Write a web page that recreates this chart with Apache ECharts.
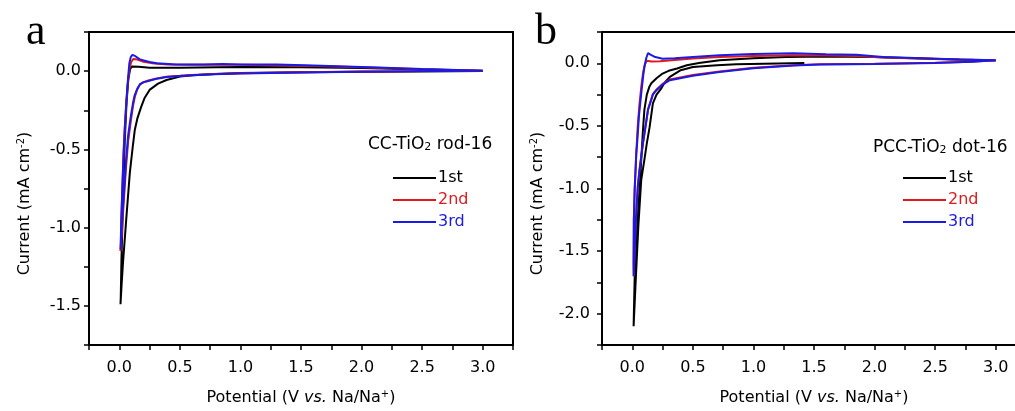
<!DOCTYPE html>
<html>
<head>
<meta charset="utf-8">
<script src="https://cdn.jsdelivr.net/npm/echarts@6/dist/echarts.min.js"></script>
<style>html,body{margin:0;padding:0;background:#fff}#c{width:1015px;height:411px}</style>
</head>
<body>
<div id="c"></div>
<script>
// ---------------- data ----------------
const seriesNames = ['1st', '2nd', '3rd'];
const xTickLabels = ['0.0', '0.5', '1.0', '1.5', '2.0', '2.5', '3.0'];
const yTickLabelsA = ['0.0', '-0.5', '-1.0', '-1.5'];
const yTickLabelsB = ['0.0', '-0.5', '-1.0', '-1.5', '-2.0'];
const legendTitleA = 'CC-TiO{s|2} rod-16';
const legendTitleB = 'PCC-TiO{s|2} dot-16';

// Panel a : CC-TiO2 rod-16  ([potential V, current mA cm-2])
const a1st = [[3.0,0.0],[2.5,-0.002],[2.0,-0.004],[1.5,-0.007],[1.0,-0.012],[0.8,-0.018],[0.61,-0.026],[0.5,-0.035],[0.39,-0.057],[0.32,-0.08],[0.25,-0.12],[0.21,-0.17],[0.18,-0.23],[0.15,-0.3],[0.128,-0.376],[0.11,-0.49],[0.087,-0.65],[0.06,-0.92],[0.03,-1.23],[0.018,-1.38],[0.01,-1.49],
  [0.012,-1.45],[0.018,-1.2],[0.03,-0.85],[0.045,-0.45],[0.06,-0.2],[0.075,-0.05],[0.09,0.015],[0.105,0.03],[0.12,0.033],[0.16,0.028],[0.25,0.022],[0.5,0.021],[0.8,0.025],[1.0,0.026],[1.5,0.025],[2.0,0.02],[2.5,0.01],[3.0,0.003]];
const a2nd = [[3.0,0.002],[2.5,0.0],[2.0,-0.003],[1.5,-0.007],[1.0,-0.014],[0.775,-0.018],[0.6,-0.024],[0.5,-0.03],[0.39,-0.036],[0.3,-0.048],[0.24,-0.06],[0.2,-0.07],[0.17,-0.085],[0.15,-0.11],[0.13,-0.16],[0.114,-0.22],[0.095,-0.32],[0.073,-0.45],[0.055,-0.62],[0.04,-0.8],[0.025,-0.98],[0.015,-1.1],[0.01,-1.15],
  [0.012,-1.12],[0.018,-0.95],[0.025,-0.75],[0.035,-0.52],[0.045,-0.36],[0.058,-0.2],[0.07,-0.08],[0.085,0.02],[0.1,0.06],[0.115,0.078],[0.128,0.081],[0.15,0.074],[0.2,0.06],[0.29,0.048],[0.4,0.042],[0.6,0.04],[0.8,0.041],[1.0,0.04],[1.3,0.038],[1.6,0.033],[2.0,0.024],[2.5,0.012],[3.0,0.003]];
const a3rd = [[3.0,0.002],[2.5,0.0],[2.0,-0.004],[1.5,-0.008],[1.0,-0.015],[0.775,-0.02],[0.6,-0.026],[0.5,-0.031],[0.39,-0.038],[0.3,-0.05],[0.24,-0.063],[0.197,-0.072],[0.17,-0.085],[0.145,-0.12],[0.125,-0.16],[0.114,-0.2],[0.095,-0.29],[0.073,-0.41],[0.055,-0.58],[0.045,-0.7],[0.03,-0.87],[0.018,-1.02],[0.01,-1.14],
  [0.012,-1.1],[0.016,-0.95],[0.023,-0.8],[0.033,-0.58],[0.045,-0.376],[0.055,-0.24],[0.065,-0.12],[0.075,-0.02],[0.083,0.05],[0.095,0.09],[0.108,0.104],[0.114,0.106],[0.13,0.097],[0.17,0.075],[0.25,0.058],[0.31,0.05],[0.47,0.043],[0.7,0.043],[0.85,0.045],[1.0,0.043],[1.3,0.042],[1.6,0.036],[2.0,0.026],[2.5,0.013],[3.0,0.003]];

// Panel b : PCC-TiO2 dot-16
const b1st = [[1.42,0.002],[1.2,-0.002],[0.86,-0.008],[0.7,-0.015],[0.5,-0.029],[0.4,-0.055],[0.31,-0.109],[0.27,-0.15],[0.24,-0.2],[0.2,-0.25],[0.17,-0.32],[0.143,-0.51],[0.12,-0.64],[0.1,-0.77],[0.074,-0.93],[0.05,-1.3],[0.03,-1.7],[0.018,-1.95],[0.011,-2.1],
  [0.013,-2.0],[0.02,-1.7],[0.04,-1.3],[0.06,-1.0],[0.074,-0.77],[0.087,-0.55],[0.1,-0.37],[0.12,-0.25],[0.14,-0.19],[0.157,-0.16],[0.2,-0.12],[0.25,-0.082],[0.3,-0.06],[0.37,-0.042],[0.45,-0.016],[0.55,0.002],[0.72,0.024],[1.0,0.04],[1.27,0.05],[1.6,0.055],[2.0,0.05],[2.5,0.035],[3.0,0.022]];
const b2nd = [[3.0,0.024],[2.8,0.013],[2.5,0.004],[2.0,-0.003],[1.8,-0.005],[1.55,-0.007],[1.33,-0.015],[1.0,-0.036],[0.72,-0.065],[0.5,-0.094],[0.31,-0.13],[0.25,-0.165],[0.2,-0.21],[0.17,-0.245],[0.157,-0.285],[0.13,-0.37],[0.11,-0.5],[0.088,-0.64],[0.06,-0.85],[0.046,-0.98],[0.03,-1.25],[0.019,-1.51],[0.012,-1.7],
  [0.011,-1.6],[0.013,-1.25],[0.02,-1.0],[0.033,-0.72],[0.045,-0.5],[0.06,-0.32],[0.075,-0.18],[0.09,-0.07],[0.105,-0.005],[0.12,0.02],[0.13,0.024],[0.16,0.015],[0.23,0.016],[0.35,0.027],[0.5,0.038],[0.72,0.05],[1.0,0.058],[1.33,0.064],[1.6,0.062],[1.85,0.058],[2.1,0.045],[2.4,0.038],[2.7,0.03],[3.0,0.024]];
const b3rd = [[3.0,0.024],[2.8,0.012],[2.5,0.002],[2.0,-0.005],[1.8,-0.007],[1.55,-0.009],[1.33,-0.018],[1.0,-0.04],[0.72,-0.07],[0.5,-0.1],[0.31,-0.135],[0.25,-0.17],[0.2,-0.215],[0.17,-0.25],[0.157,-0.29],[0.13,-0.37],[0.11,-0.5],[0.088,-0.64],[0.06,-0.85],[0.046,-0.98],[0.03,-1.25],[0.019,-1.51],[0.012,-1.7],
  [0.011,-1.6],[0.013,-1.25],[0.02,-1.0],[0.033,-0.72],[0.04,-0.64],[0.055,-0.42],[0.074,-0.24],[0.09,-0.1],[0.1,-0.03],[0.115,0.04],[0.13,0.082],[0.15,0.07],[0.19,0.05],[0.25,0.037],[0.35,0.04],[0.5,0.05],[0.72,0.064],[1.0,0.075],[1.33,0.08],[1.6,0.072],[1.85,0.068],[2.07,0.05],[2.4,0.04],[2.7,0.03],[3.0,0.024]];

// ---------------- styling ----------------
const FONT = 'DejaVu Sans';
const COLORS = ['#000000', '#e0191c', '#1a1ae6'];
const GRID_A = { left: 89, top: 32, width: 424, height: 313 };
const GRID_B = { left: 602, top: 32, width: 424, height: 313 };

function labelFrom(list) {
  return function (v) {
    for (const s of list) if (Math.abs(parseFloat(s) - v) < 1e-6) return s;
    return '';
  };
}
const subRich = {
  s: { fontFamily: FONT, fontSize: 11, color: '#000', padding: [6, 0, 0, 0] },
  sup: { fontFamily: FONT, fontSize: 10, color: '#000', padding: [0, 0, 8, 0] },
  i: { fontFamily: FONT, fontSize: 16, fontStyle: 'italic', color: '#000' }
};

function xAxis(gi) {
  return {
    type: 'value', gridIndex: gi, min: -0.25, max: 3.25, interval: 0.25,
    axisLine: { show: true, onZero: false, lineStyle: { color: '#000', width: 2 } },
    axisTick: { show: true, inside: false, length: 5, lineStyle: { color: '#000', width: 1.5 } },
    axisLabel: { formatter: labelFrom(xTickLabels), fontFamily: FONT, fontSize: 16, color: '#000', margin: 15 },
    splitLine: { show: false },
    name: 'Potential (V {i|vs.} Na/Na{sup|+})', nameLocation: 'middle', nameGap: 44,
    nameTextStyle: { fontFamily: FONT, fontSize: 16, color: '#000', rich: subRich }
  };
}
function yAxis(gi, min, labels, margin) {
  return {
    type: 'value', gridIndex: gi, min: min, max: 0.25, interval: 0.25,
    axisLine: { show: true, onZero: false, lineStyle: { color: '#000', width: 2 } },
    axisTick: { show: true, inside: false, length: 5, lineStyle: { color: '#000', width: 1.5 } },
    axisLabel: { formatter: labelFrom(labels), fontFamily: FONT, fontSize: 16, color: '#000', margin: margin },
    splitLine: { show: false },
    name: 'Current (mA cm{sup|-2})', nameLocation: 'middle', nameGap: 55, nameRotate: 90,
    nameTextStyle: { fontFamily: FONT, fontSize: 16, color: '#000', rich: subRich, padding: [0, 30, 0, 0] }
  };
}
function lineSeries(name, data, idx, color) {
  return {
    name: name, type: 'line', data: data, xAxisIndex: idx, yAxisIndex: idx,
    showSymbol: false, symbol: 'none', smooth: false,
    lineStyle: { color: color, width: 2 }, itemStyle: { color: color }
  };
}
function legend(left, top) {
  return {
    orient: 'vertical', left: left, top: top, padding: 0, icon: 'rect', itemWidth: 43, itemHeight: 2, itemGap: 4,
    textStyle: { fontFamily: FONT, fontSize: 16, lineHeight: 18, padding: [0, 0, 0, -3] },
    data: seriesNames.map((n, i) => ({ name: n, textStyle: { color: COLORS[i] } })),
    selectedMode: false
  };
}

const gridBase = { show: true, borderColor: '#000', borderWidth: 2, backgroundColor: 'transparent', containLabel: false, outerBoundsMode: 'none' };

const chart = echarts.init(document.getElementById('c'), null, { renderer: 'canvas' });
chart.setOption({
  animation: false,
  backgroundColor: '#fff',
  grid: [Object.assign({}, gridBase, GRID_A), Object.assign({}, gridBase, GRID_B)],
  xAxis: [xAxis(0), xAxis(1)],
  yAxis: [yAxis(0, -1.75, yTickLabelsA, 8), yAxis(1, -2.25, yTickLabelsB, 12)],
  title: [
    { text: legendTitleA, left: 368, top: 136, padding: 0, textStyle: { fontFamily: FONT, fontSize: 17, fontWeight: 'normal', color: '#000', rich: subRich } },
    { text: legendTitleB, left: 873, top: 139, padding: 0, textStyle: { fontFamily: FONT, fontSize: 17, fontWeight: 'normal', color: '#000', rich: subRich } }
  ],
  legend: [legend(393, 169), legend(903, 169)],
  graphic: [
    { type: 'text', left: 26, top: 10, style: { text: 'a', font: '44px "Liberation Serif"', fill: '#000' } },
    { type: 'text', left: 535, top: 10, style: { text: 'b', font: '44px "Liberation Serif"', fill: '#000' } }
  ],
  series: [
    lineSeries(seriesNames[0], a1st, 0, COLORS[0]),
    lineSeries(seriesNames[1], a2nd, 0, COLORS[1]),
    lineSeries(seriesNames[2], a3rd, 0, COLORS[2]),
    lineSeries(seriesNames[0], b1st, 1, COLORS[0]),
    lineSeries(seriesNames[1], b2nd, 1, COLORS[1]),
    lineSeries(seriesNames[2], b3rd, 1, COLORS[2])
  ]
});
</script>
</body>
</html>
